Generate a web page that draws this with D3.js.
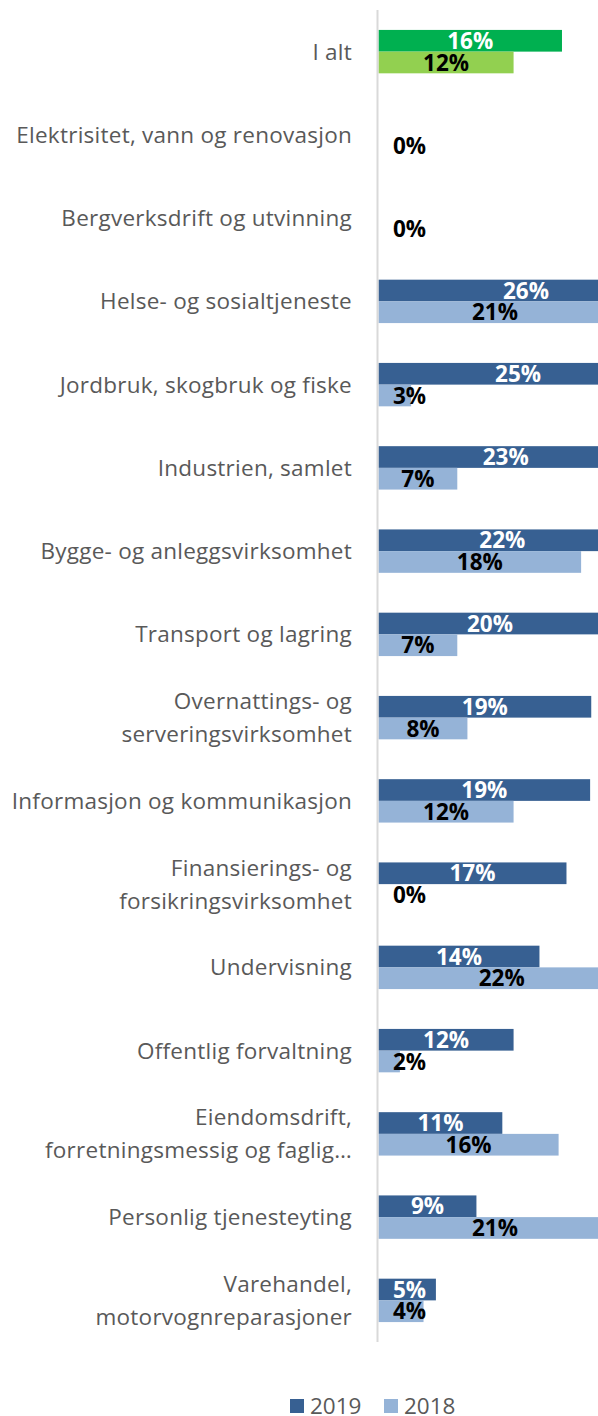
<!DOCTYPE html>
<html><head><meta charset="utf-8">
<script src="https://cdn.jsdelivr.net/npm/d3@7"></script>
<style>
html,body{margin:0;padding:0;background:#fff;}
svg{display:block;}
</style></head>
<body>
<script>
const categories = [
  ["I alt"],
  ["Elektrisitet, vann og renovasjon"],
  ["Bergverksdrift og utvinning"],
  ["Helse- og sosialtjeneste"],
  ["Jordbruk, skogbruk og fiske"],
  ["Industrien, samlet"],
  ["Bygge- og anleggsvirksomhet"],
  ["Transport og lagring"],
  ["Overnattings- og", "serveringsvirksomhet"],
  ["Informasjon og kommunikasjon"],
  ["Finansierings- og", "forsikringsvirksomhet"],
  ["Undervisning"],
  ["Offentlig forvaltning"],
  ["Eiendomsdrift,", "forretningsmessig og faglig…"],
  ["Personlig tjenesteyting"],
  ["Varehandel,", "motorvognreparasjoner"]
];
const series = ["2019", "2018"];
const values2019 = [0.163, null, null, 0.262, 0.248, 0.226, 0.22, 0.198, 0.189, 0.188, 0.167, 0.143, 0.120, 0.110, 0.087, 0.051];
const values2018 = [0.120, 0, 0, 0.207, 0.029, 0.070, 0.180, 0.070, 0.079, 0.120, 0, 0.219, 0.019, 0.160, 0.207, 0.040];
const seriesColors = ["#376092", "#95B3D7"];
const totalColors = ["#00B050", "#92D050"];
const legendLabels = ["2019", "2018"];

const W = 598, H = 1416;
const svg = d3.select("body").append("svg").attr("width", W).attr("height", H);

const keys = categories.map((c, i) => i);
const y = d3.scaleBand().domain(keys).range([10, 1342]).padding(0);
const inner = d3.scaleBand().domain(series).range([-21.7, 21.7]);
const x = d3.scaleLinear().domain([0, 0.195]).range([378.5, 598]);

const rows = keys.map(i => ({i, vals: [values2019[i], values2018[i]]}));

// bars
const g = svg.append("g");
rows.forEach(r => {
  const cy = y(r.i) + y.bandwidth() / 2;
  r.vals.forEach((v, s) => {
    if (v === null) return;
    const col = r.i === 0 ? totalColors[s] : seriesColors[s];
    if (v > 0) {
      g.append("rect")
        .attr("x", x(0))
        .attr("y", cy + inner(series[s]))
        .attr("width", x(v) - x(0))
        .attr("height", inner.bandwidth())
        .attr("fill", col);
    }
  });
});

// axis line
svg.append("line").attr("x1", 377.5).attr("x2", 377.5)
  .attr("y1", y.range()[0]).attr("y2", y.range()[1])
  .attr("stroke", "#D9D9D9").attr("stroke-width", 2);

// data labels
rows.forEach(r => {
  const cy = y(r.i) + y.bandwidth() / 2;
  r.vals.forEach((v, s) => {
    if (v === null) return;
    const center = (x(0) + x(v)) / 2;
    const cx = Math.max(center, x(0) + 31);
    svg.append("text")
      .attr("x", cx)
      .attr("y", cy + inner(series[s]) + inner.bandwidth() / 2)
      .attr("dy", "0.36em")
      .attr("text-anchor", "middle")
      .attr("font-family", "'Open Sans', sans-serif")
      .attr("font-weight", "bold")
      .attr("font-size", 22.5)
      .attr("fill", s === 0 ? "#FFFFFF" : "#000000")
      .text(d3.format(".0%")(v));
  });
});

// category labels
rows.forEach(r => {
  const cy = y(r.i) + y.bandwidth() / 2;
  const lines = categories[r.i];
  const lh = 33;
  const t = svg.append("text")
    .attr("text-anchor", "end")
    .attr("font-family", "'Open Sans', sans-serif")
    .attr("font-size", 22.5)
    .attr("letter-spacing", 0.25)
    .attr("fill", "#595959");
  lines.forEach((ln, k) => {
    t.append("tspan")
      .attr("x", 352)
      .attr("y", cy + (k - (lines.length - 1) / 2) * lh)
      .attr("dy", "0.36em")
      .text(ln);
  });
});

// legend
const legX = [290, 384];
legendLabels.forEach((lab, s) => {
  svg.append("rect").attr("x", legX[s]).attr("y", 1399).attr("width", 14).attr("height", 14)
    .attr("fill", seriesColors[s]);
  svg.append("text").attr("x", legX[s] + 20).attr("y", 1405.5).attr("dy", "0.36em")
    .attr("font-family", "'Open Sans', sans-serif").attr("font-size", 22.5)
    .attr("fill", "#595959").text(lab);
});
</script>
</body></html>
